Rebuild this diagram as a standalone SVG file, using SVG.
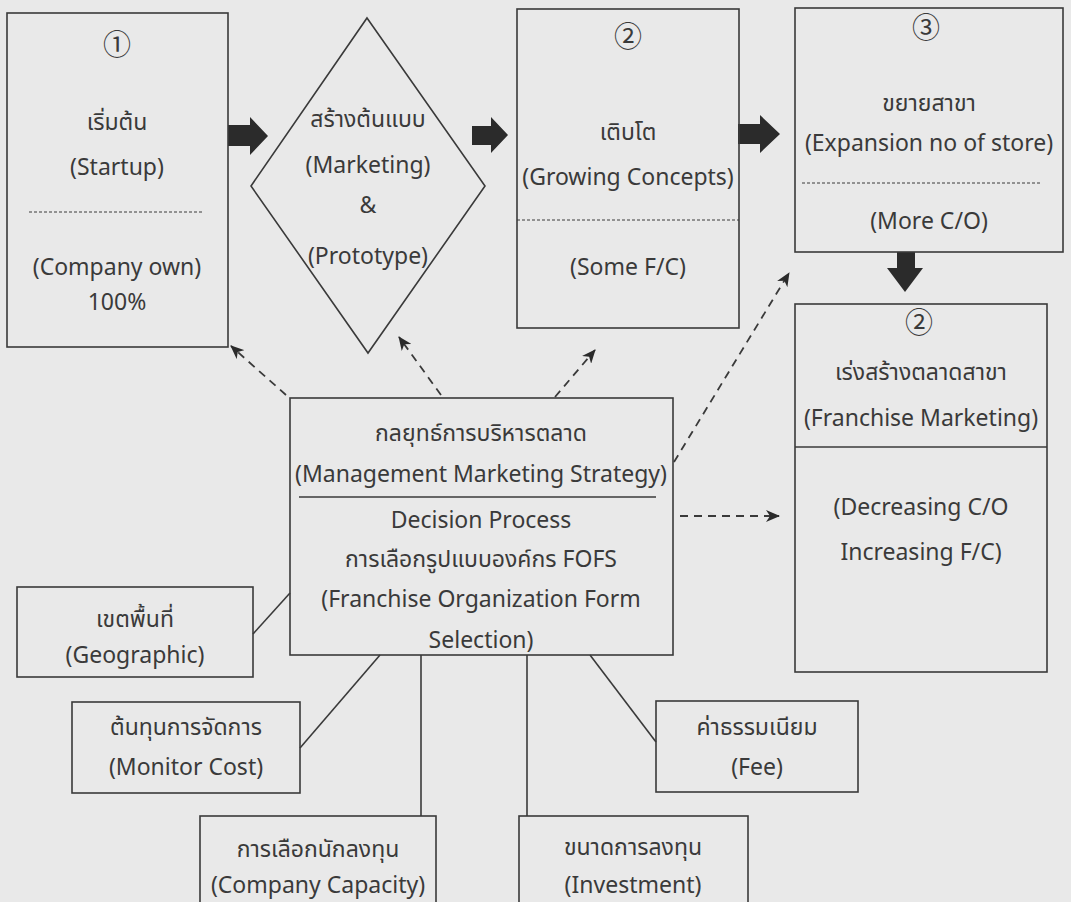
<svg xmlns="http://www.w3.org/2000/svg" width="1071" height="902" viewBox="0 0 1071 902">
<style>
.bg{fill:#e9e9e9}
.box{fill:none;stroke:#3a3a3a;stroke-width:1.6}
.t{font-family:"Noto Sans","Noto Sans Thai","Loma","DejaVu Sans",sans-serif;font-size:23px;fill:#3a3a3a;text-anchor:middle}
.num{font-family:"Noto Sans CJK SC","DejaVu Sans",sans-serif;font-size:28px;fill:#3a3a3a;text-anchor:middle}
.dsh{stroke:#3a3a3a;stroke-width:1;stroke-dasharray:3 2;fill:none}
.sol{stroke:#3a3a3a;stroke-width:1.6;fill:none}
.arr{stroke:#3a3a3a;stroke-width:1.8;stroke-dasharray:8 6;fill:none;marker-end:url(#ah)}
.big{fill:#2b2b2b}
</style>
<defs>
<marker id="ah" markerWidth="14" markerHeight="12" refX="13" refY="6" orient="auto" markerUnits="userSpaceOnUse">
<path d="M0,0 L14,6 L0,12 L4,6 z" fill="#2b2b2b"/>
</marker>
</defs>
<rect class="bg" x="0" y="0" width="1071" height="902"/>

<g id="connectors">
<polygon class="big" points="228,125 250,125 250,117 268,136 250,155 250,146 228,146"/>
<polygon class="big" points="472,126 491,126 491,117 508,135 491,153 491,145 472,145"/>
<polygon class="big" points="738,124 760,124 760,115 780,134 760,153 760,144 738,144"/>
<polygon class="big" points="897,252 915,252 915,268 923,268 905,292 887,268 897,268"/>
<line class="arr" x1="286" y1="395" x2="231" y2="346"/>
<line class="arr" x1="441" y1="395" x2="399" y2="337"/>
<line class="arr" x1="555" y1="397" x2="595" y2="350"/>
<line class="arr" x1="674" y1="462" x2="789" y2="273"/>
<line class="arr" x1="680" y1="516" x2="779" y2="516"/>
<line class="sol" x1="253" y1="634" x2="290" y2="593"/>
<line class="sol" x1="300" y1="748" x2="380" y2="655"/>
<line class="sol" x1="421" y1="655" x2="421" y2="816"/>
<line class="sol" x1="527" y1="655" x2="527" y2="816"/>
<line class="sol" x1="590" y1="655" x2="656" y2="742"/>
</g>

<g id="startup">
<rect class="box" x="7" y="13" width="221" height="334"/>
<text class="num" x="117" y="55">①</text>
<text class="t" x="117" y="130">เริ่มต้น</text>
<text class="t" x="117" y="175">(Startup)</text>
<line class="dsh" x1="29" y1="212" x2="204" y2="212"/>
<text class="t" x="117" y="275">(Company own)</text>
<text class="t" x="117" y="310">100%</text>
</g>

<g id="prototype">
<polygon class="box" points="367,18 485,186 368,353 251,186"/>
<text class="t" x="368" y="127">สร้างต้นแบบ</text>
<text class="t" x="368" y="173">(Marketing)</text>
<text class="t" x="368" y="213">&amp;</text>
<text class="t" x="368" y="264">(Prototype)</text>
</g>

<g id="growing">
<rect class="box" x="517" y="9" width="222" height="319"/>
<text class="num" x="628" y="47">②</text>
<text class="t" x="628" y="140">เติบโต</text>
<text class="t" x="628" y="185">(Growing Concepts)</text>
<line class="dsh" x1="517" y1="220" x2="739" y2="220"/>
<text class="t" x="628" y="275">(Some F/C)</text>
</g>

<g id="expansion">
<rect class="box" x="795" y="8" width="268" height="244"/>
<text class="num" x="926" y="38">③</text>
<text class="t" x="929" y="111">ขยายสาขา</text>
<text class="t" x="929" y="151" font-size="24">(Expansion no of store)</text>
<line class="dsh" x1="802" y1="183" x2="1040" y2="183"/>
<text class="t" x="929" y="229">(More C/O)</text>
</g>

<g id="franchise-marketing">
<rect class="box" x="795" y="304" width="252" height="368"/>
<text class="num" x="919" y="333">②</text>
<text class="t" x="921" y="380">เร่งสร้างตลาดสาขา</text>
<text class="t" x="921" y="426">(Franchise Marketing)</text>
<line class="sol" x1="795" y1="447" x2="1047" y2="447"/>
<text class="t" x="921" y="515">(Decreasing C/O</text>
<text class="t" x="921" y="560">Increasing F/C)</text>
</g>

<g id="strategy">
<rect class="box" x="290" y="398" width="383" height="257"/>
<text class="t" x="481" y="441">กลยุทธ์การบริหารตลาด</text>
<text class="t" x="481" y="482">(Management Marketing Strategy)</text>
<line class="sol" x1="299" y1="497" x2="656" y2="497" stroke-width="2"/>
<text class="t" x="481" y="528">Decision Process</text>
<text class="t" x="481" y="567">การเลือกรูปแบบองค์กร FOFS</text>
<text class="t" x="481" y="607">(Franchise Organization Form</text>
<text class="t" x="481" y="648">Selection)</text>
</g>

<g id="geographic">
<rect class="box" x="17" y="587" width="236" height="90"/>
<text class="t" x="135" y="627">เขตพื้นที่</text>
<text class="t" x="135" y="663">(Geographic)</text>
</g>

<g id="monitor-cost">
<rect class="box" x="72" y="702" width="228" height="91"/>
<text class="t" x="186" y="735">ต้นทุนการจัดการ</text>
<text class="t" x="186" y="775">(Monitor Cost)</text>
</g>

<g id="company-capacity">
<rect class="box" x="200" y="816" width="236" height="100"/>
<text class="t" x="318" y="857">การเลือกนักลงทุน</text>
<text class="t" x="318" y="893">(Company Capacity)</text>
</g>

<g id="investment">
<rect class="box" x="519" y="816" width="229" height="100"/>
<text class="t" x="633" y="855">ขนาดการลงทุน</text>
<text class="t" x="633" y="893">(Investment)</text>
</g>

<g id="fee">
<rect class="box" x="656" y="701" width="202" height="91"/>
<text class="t" x="757" y="735">ค่าธรรมเนียม</text>
<text class="t" x="757" y="775">(Fee)</text>
</g>
</svg>
